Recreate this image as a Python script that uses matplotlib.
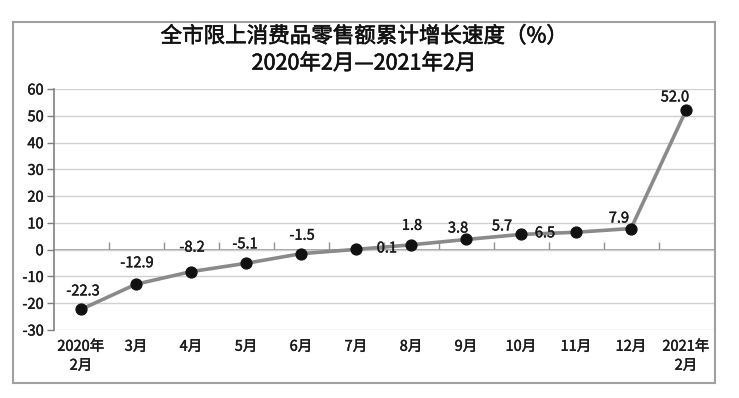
import matplotlib
matplotlib.use("Agg")
import matplotlib.pyplot as plt
import matplotlib.patheffects as pe
from matplotlib.patches import Rectangle

plt.rcParams['font.family'] = ['Noto Sans CJK SC', 'DejaVu Sans']

categories = ["2020年\n2月", "3月", "4月", "5月", "6月", "7月", "8月", "9月",
              "10月", "11月", "12月", "2021年\n2月"]
values = [-22.3, -12.9, -8.2, -5.1, -1.5, 0.1, 1.8, 3.8, 5.7, 6.5, 7.9, 52.0]
value_labels = ["-22.3", "-12.9", "-8.2", "-5.1", "-1.5", "0.1", "1.8", "3.8",
                "5.7", "6.5", "7.9", "52.0"]
yticks = [-30, -20, -10, 0, 10, 20, 30, 40, 50, 60]
title = "全市限上消费品零售额累计增长速度（%）\n2020年2月—2021年2月"

# label offsets in pixels (style only)
label_offsets = [(2, 18), (1, 21), (1, 24), (-1, 19), (1, 18), (31, 1), (1, 19),
                 (-8, 11), (-19, 8), (-31, -1), (-12, 10), (-11, 13)]

heavy = [pe.withStroke(linewidth=0.3, foreground='#1a1a1a')]
heavy_title = [pe.withStroke(linewidth=0.45, foreground='#111111')]

fig = plt.figure(figsize=(7.39, 3.98), dpi=100)
fig.patch.set_facecolor('white')
fig.patches.append(Rectangle((13 / 739, 1 - 383 / 398), (715 - 13) / 739, (383 - 22) / 398,
                             transform=fig.transFigure, fill=False,
                             edgecolor='#a0a0a0', linewidth=1.5))

ax = fig.add_axes([53.5 / 739, 1 - 330 / 398, (713.5 - 53.5) / 739, (330 - 89) / 398])
x = list(range(len(values)))
ax.plot(x, values, color='#8a8a8a', linewidth=2.6, marker='o', markersize=7.8,
        markerfacecolor='#111111', markeredgecolor='#111111', zorder=3)

for xi, v, lab, (dx, dy) in zip(x, values, value_labels, label_offsets):
    ax.annotate(lab, (xi, v), xytext=(dx, dy), textcoords='offset pixels',
                ha='center', va='center', fontsize=10.5, color='#1a1a1a',
                path_effects=heavy, zorder=4)

ax.set_xlim(-0.5, len(values) - 0.5)
ax.set_ylim(yticks[0], yticks[-1])
ax.set_yticks(yticks)
ax.set_yticklabels([str(t) for t in yticks], fontsize=10.5, color='#1a1a1a')
ax.yaxis.grid(True, color='#d0d0d0', linewidth=1.0)
ax.set_axisbelow(True)

ax.set_xticks(x)
ax.set_xticklabels(categories, fontsize=10.5, color='#1a1a1a', linespacing=1.45)
ax.tick_params(axis='x', length=0, pad=7)
ax.tick_params(axis='y', length=5, color='#808080', width=1, pad=2)
for t in ax.get_xticklabels() + ax.get_yticklabels():
    t.set_path_effects(heavy)

for s in ['top', 'right', 'bottom']:
    ax.spines[s].set_visible(False)
ax.spines['left'].set_color('#808080')
ax.spines['left'].set_linewidth(1.2)

# category axis crossing at zero
sec = ax.secondary_xaxis(30 / 90)
sec.set_xticks([i + 0.5 for i in x[:-1]])
sec.set_xticklabels([''] * (len(x) - 1))
sec.tick_params(axis='x', direction='in', length=6, color='#909090', width=1)
sec.spines['bottom'].set_color('#909090')
sec.spines['bottom'].set_linewidth(1.2)

fig.text(0.5 * (13 + 715) / 739, 1 - 50 / 398, title, ha='center', va='center',
         fontsize=15.5, color='#111111', linespacing=1.3, path_effects=heavy_title)

fig.savefig('out.png', dpi=100, facecolor='white')
